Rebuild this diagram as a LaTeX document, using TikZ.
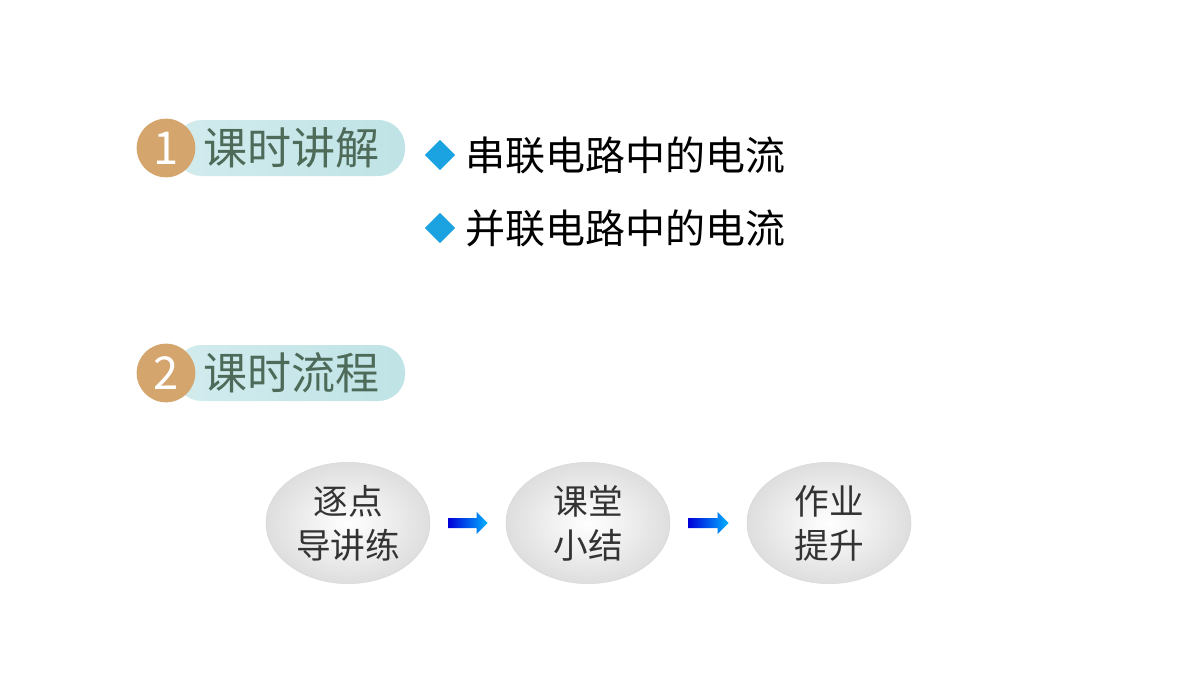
\documentclass[tikz,border=0pt]{standalone}
\usepackage{fontspec}
\newfontfamily\cjk{Noto Sans CJK SC}
\usetikzlibrary{shapes.geometric,calc}
\definecolor{orng}{HTML}{D4A66E}
\definecolor{pill}{HTML}{BFE3E6}
\definecolor{htxt}{HTML}{4E6B5A}
\definecolor{dia}{HTML}{1AA3E0}
\tikzset{
 num/.style={circle,fill=orng,minimum size=44,inner sep=0,text=white,font=\cjk\fontsize{34}{34}\selectfont},
 htext/.style={anchor=west,text=htxt,font=\cjk\fontsize{33}{33}\selectfont,inner sep=0},
 btext/.style={anchor=west,text=black,font=\cjk\fontsize{30}{30}\selectfont,inner sep=0},
 dmd/.style={diamond,fill=dia,minimum size=23,inner sep=0},
 oval/.style={ellipse,minimum width=123,minimum height=91,draw=black!15,inner color=white,outer color=black!13,align=center,text=black!80,font=\cjk\fontsize{26}{33}\selectfont}
}
\begin{document}
\begin{tikzpicture}[x=0.75pt,y=-0.75pt]
\useasboundingbox[fill=white] (0,0) rectangle (1200,675);
% headers
\foreach \y/\n/\t/\nm in {148/1/课时讲解/a,373/2/课时流程/b}{
 \shade[left color=pill!70,right color=pill,rounded corners=20] (175,\y-28) rectangle (405,\y+28);
 \node[num] (n\nm) at (166,\y) {\n};
 \node[htext] (h\nm) at (203,\y) {\t};
}
\node[dmd] (d1) at (440,155) {};
\node[btext] (b1) at (465,155) {串联电路中的电流};
\node[dmd] (d2) at (440,228) {};
\node[btext] (b2) at (465,228) {并联电路中的电流};
% ovals
\node[oval] (o1) at (348,523) {逐点\\导讲练};
\node[oval] (o2) at (588,523) {课堂\\小结};
\node[oval] (o3) at (829,523) {作业\\提升};
\foreach \a/\b in {o1/o2,o2/o3}{
 \path (\a.east) ++(18,0) coordinate (s) (\b.west) ++(-18,0) coordinate (e);
 \shade[left color=blue!85!black,right color=cyan!70!blue]
  ($(s)+(0,-5)$) -- ($(e)+(-11,-5)$) -- ($(e)+(-11,-11)$) -- (e) -- ($(e)+(-11,11)$) -- ($(e)+(-11,5)$) -- ($(s)+(0,5)$) -- cycle;
}
\end{tikzpicture}
\end{document}
